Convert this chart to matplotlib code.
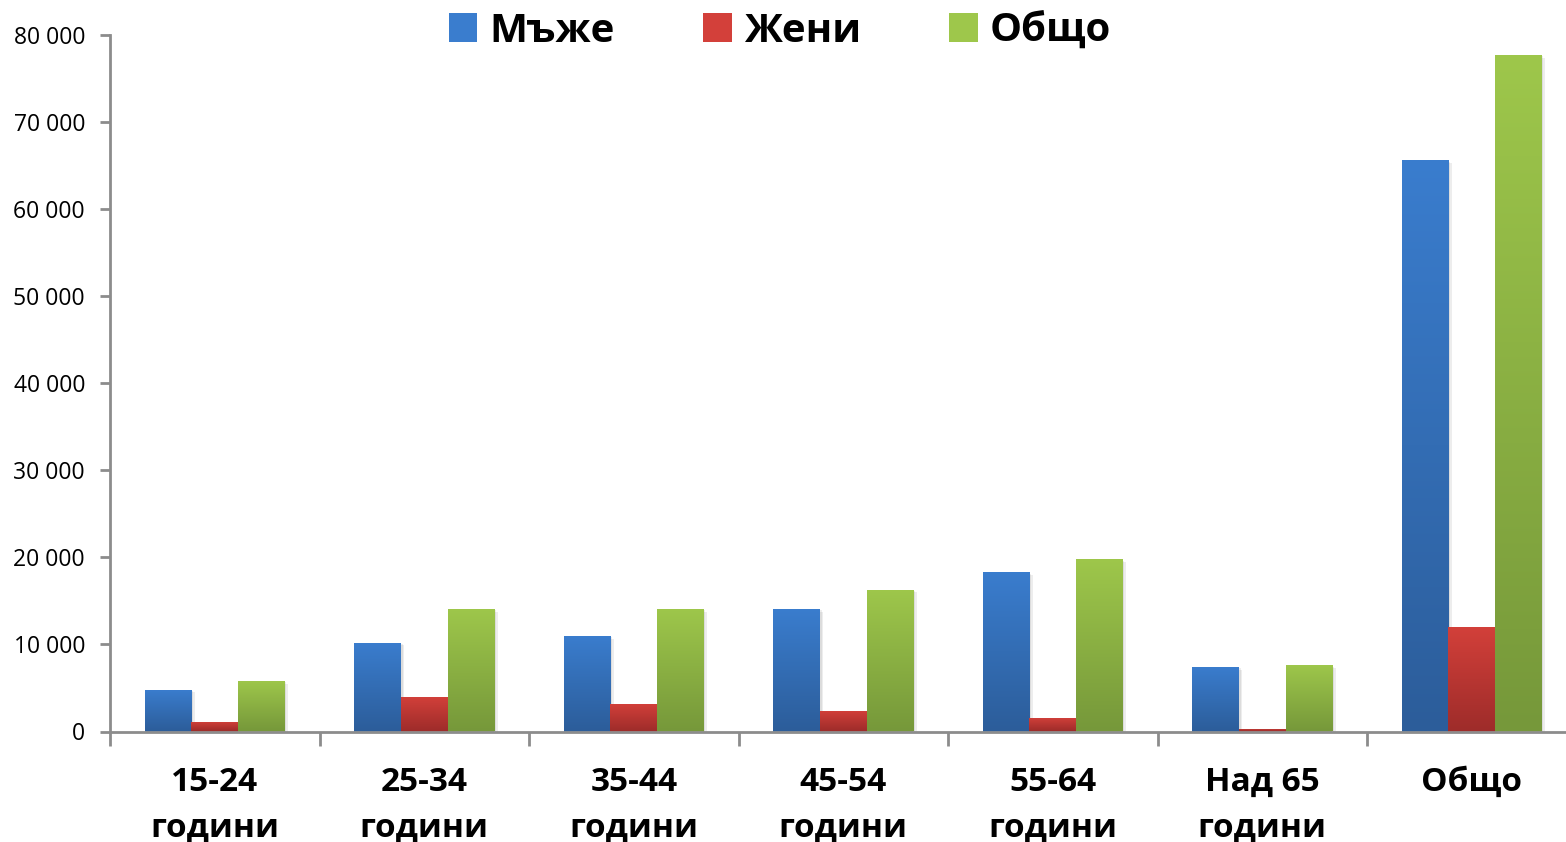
import numpy as np
import matplotlib
matplotlib.use("Agg")
import matplotlib.pyplot as plt
from matplotlib.patches import Patch
from matplotlib.colors import LinearSegmentedColormap
import matplotlib.patheffects as pe
from matplotlib.ticker import FuncFormatter, FixedLocator

categories = ["15-24\nгодини", "25-34\nгодини", "35-44\nгодини", "45-54\nгодини",
              "55-64\nгодини", "Над 65\nгодини", "Общо"]
men = [4800, 10200, 11000, 14100, 18300, 7400, 65600]
women = [1100, 4000, 3200, 2300, 1500, 300, 12000]
total = [5800, 14100, 14100, 16300, 19800, 7600, 77700]
series_names = ["Мъже", "Жени", "Общо"]
y_ticks = [0, 10000, 20000, 30000, 40000, 50000, 60000, 70000, 80000]

grad = {
    "Мъже": ("#3A7DCE", "#2C5D9A"),
    "Жени": ("#D3403A", "#9E2C2A"),
    "Общо": ("#9EC74B", "#76983A"),
}

plt.rcParams['font.family'] = ['Open Sans', 'DejaVu Sans']

fig = plt.figure(figsize=(15.66, 8.42), dpi=100)
W, H = 1566, 842
left_px, right_px = 110, 1576.5
top_px, bot_px = 35, 731.5
ax = fig.add_axes([left_px / W, 1 - bot_px / H, (right_px - left_px) / W, (bot_px - top_px) / H])

bw = 1 / 4.5
x = np.arange(len(categories))
all_series = [men, women, total]
for i, (name, vals) in enumerate(zip(series_names, all_series)):
    top_c, bot_c = grad[name]
    cmap = LinearSegmentedColormap.from_list(name, [bot_c, top_c])
    bars = ax.bar(x + (i - 1) * bw, vals, width=bw, color=top_c, zorder=2,
                  edgecolor="none")
    for b in bars:
        b.set_path_effects([pe.SimplePatchShadow(offset=(2.5, -2), shadow_rgbFace="#000000", alpha=0.07),
                            pe.SimplePatchShadow(offset=(1.2, -1), shadow_rgbFace="#000000", alpha=0.07),
                            pe.Normal()])
        bx, bwid, bh = b.get_x(), b.get_width(), b.get_height()
        im = ax.imshow(np.linspace(0, 1, 256).reshape(-1, 1), cmap=cmap, origin="lower",
                       extent=(bx, bx + bwid, 0, bh), aspect="auto", zorder=3,
                       interpolation="bilinear")
        im.set_clip_path(b)

ax.set_xlim(-0.5, len(categories) - 0.5)
ax.set_ylim(0, 80000)

axis_col = "#8C8C8C"
for s in ["top", "right"]:
    ax.spines[s].set_visible(False)
for s in ["left", "bottom"]:
    ax.spines[s].set_color(axis_col)
    ax.spines[s].set_linewidth(2)
ax.spines["bottom"].set_zorder(4)

ax.yaxis.set_major_locator(FixedLocator(y_ticks))
ax.yaxis.set_major_formatter(FuncFormatter(lambda v, p: f"{int(v):,}".replace(",", " ")))
ax.tick_params(axis="y", direction="out", length=7, width=2, color=axis_col,
               labelsize=16.5, pad=11, labelcolor="#000000")

ax.xaxis.set_major_locator(FixedLocator(np.arange(-0.5, len(categories), 1.0)))
ax.xaxis.set_major_formatter(FuncFormatter(lambda v, p: ""))
ax.set_xticks(x, minor=True)
ax.set_xticklabels(categories, minor=True, fontsize=24, fontweight="bold", linespacing=1.52)
ax.tick_params(axis="x", which="major", direction="out", length=10, width=2, color=axis_col)
ax.tick_params(axis="x", which="minor", length=0, pad=24.5)

handles = [Patch(facecolor=grad[n][0], edgecolor="none") for n in series_names]
fig.legend(handles, series_names, loc="center", bbox_to_anchor=(780 / W, 1 - 31 / H),
           ncol=3, frameon=False, prop={"size": 29, "weight": "bold"},
           handlelength=0.7, handleheight=0.7, handletextpad=0.3, columnspacing=2.2)

fig.savefig("out.png", dpi=100)
